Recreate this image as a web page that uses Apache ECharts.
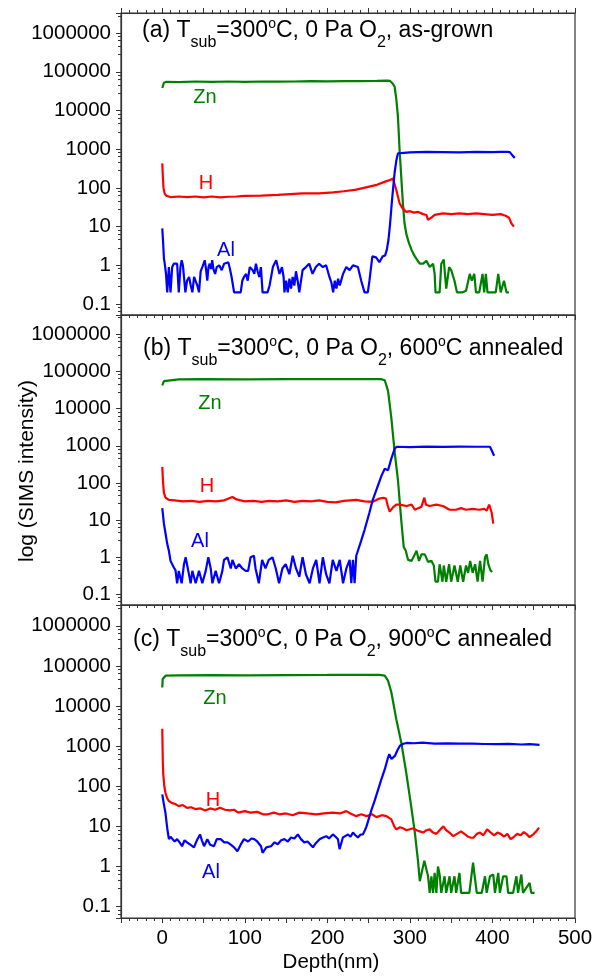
<!DOCTYPE html>
<html>
<head>
<meta charset="utf-8">
<script src="https://cdn.jsdelivr.net/npm/echarts@6/dist/echarts.min.js"></script>
<style>
html, body { margin: 0; padding: 0; background: #fff; }
#chart { width: 600px; height: 976px; }
</style>
</head>
<body>
<div id="chart"></div>
<script>
// depth (nm), SIMS counts

// (a) as-grown
const znA = [[0, 38000], [2, 52000], [5, 55000], [20, 54000], [40, 56000], [60, 55000], [80, 56000], [100, 55000], [120, 56000], [140, 55500], [160, 56000], [180, 57000], [200, 56500], [220, 57000], [240, 57500], [260, 58000], [272, 59000], [276, 58000], [279, 50000], [281.5, 41000], [283.5, 20000], [285.5, 6900], [287.5, 950], [289.5, 195], [291.5, 40], [293.5, 12], [296, 6], [299, 3.7], [302, 2.5], [306, 1.7], [309, 1.35], [312, 1.1], [316, 1.1], [320, 1.3], [324, 0.9], [328, 1.1], [330, 0.6], [331, 0.2], [336, 0.2], [338, 1.1], [341, 1.4], [344, 0.25], [347.5, 0.9], [350, 0.75], [354, 0.4], [357, 0.2], [364, 0.2], [368, 0.22], [372.5, 0.6], [375, 0.4], [378, 0.6], [380, 0.2], [384, 0.2], [388, 0.6], [390, 0.2], [392, 0.6], [394, 0.2], [398, 0.2], [404, 0.2], [407, 0.6], [410, 0.2], [414, 0.4], [417, 0.2], [420, 0.2]];
const hA = [[0, 430], [0.7, 200], [1.5, 100], [3, 70], [5, 62], [10, 58], [20, 60], [30, 58], [40, 60], [50, 57], [60, 60], [70, 57], [80, 59], [90, 60], [100, 62], [120, 63], [140, 66], [160, 70], [170, 72], [190, 72], [207, 77], [220, 82], [235, 90], [248, 105], [260, 120], [270, 145], [276, 160], [279.5, 175], [283.5, 88], [287.5, 40], [291, 30], [295.5, 24], [300, 25], [305, 23], [310, 24], [316, 21], [320, 20], [322, 15], [326, 17], [330, 20], [340, 22], [350, 21], [360, 22], [370, 21], [380, 22], [390, 21], [400, 20], [410, 21], [416, 19], [420, 17], [423, 12], [426, 10]];
const alA = [[0, 9], [1, 4], [2, 1.5], [3, 1.1], [4.5, 0.6], [6, 0.2], [8, 0.9], [10, 0.2], [12, 0.9], [14, 1.1], [16, 1.2], [18, 1.1], [20, 0.2], [22, 0.9], [23.5, 1.35], [25, 1.0], [26.5, 0.9], [28, 0.2], [30, 0.4], [32.5, 0.5], [34.5, 0.3], [36.5, 0.2], [38.5, 0.5], [40.5, 0.5], [42.5, 0.3], [44.5, 0.2], [46.5, 0.7], [48.5, 0.9], [51.5, 1.35], [53, 0.8], [54.5, 0.4], [56, 0.9], [57.5, 1.1], [59, 0.8], [60.5, 1.35], [62, 0.8], [64, 0.6], [66, 0.9], [67, 0.8], [69, 1.0], [72, 0.75], [75, 1.1], [77, 1.1], [80, 1.2], [82, 0.8], [84, 0.5], [87, 0.2], [95, 0.2], [97, 0.4], [99, 0.5], [101.5, 0.6], [103.5, 0.4], [106, 0.9], [109.5, 0.75], [111.5, 0.6], [113.5, 1.1], [115.5, 0.7], [117.5, 0.5], [119.5, 0.9], [121.5, 0.2], [127.5, 0.2], [130, 0.3], [134, 0.9], [138, 1.35], [140, 0.9], [142, 0.6], [145, 0.9], [147, 0.5], [148, 0.2], [150, 0.4], [152, 0.2], [154, 0.45], [156, 0.25], [158, 0.5], [160, 0.3], [162, 0.7], [164, 0.4], [166, 0.2], [170, 0.75], [174, 0.9], [178, 1.1], [182, 0.6], [186, 0.9], [190, 1.1], [194.5, 0.9], [198.5, 1.0], [202.5, 0.5], [205, 0.35], [207, 0.2], [209, 0.4], [211, 0.25], [213, 0.45], [215, 0.3], [219, 0.6], [223, 0.9], [227, 0.75], [231, 1.0], [237, 0.9], [241, 0.4], [245, 0.2], [249, 0.2], [251, 0.4], [254.5, 1.7], [259, 1.6], [263, 1.2], [267, 1.7], [270, 1.8], [272, 2.5], [274, 4.5], [276, 12], [278, 40], [279.5, 90], [281.5, 250], [283.5, 500], [285.5, 780], [287.5, 850], [300, 830], [320, 850], [340, 840], [360, 830], [380, 850], [400, 840], [410, 850], [418, 850], [421, 840], [424, 700], [427, 590]];

// (b) 600 C annealed
const znB = [[0, 42000], [2, 55000], [4, 60000], [20, 61000], [50, 62000], [100, 61500], [150, 62000], [200, 62000], [240, 62500], [265, 62000], [269.5, 58000], [273.5, 30000], [277.5, 5600], [281.5, 680], [285.5, 120], [289.5, 10], [292.5, 1.9], [295, 1.5], [297.8, 0.85], [302, 0.8], [306, 1.2], [308, 1.5], [311, 0.8], [314, 1.2], [318, 1.2], [322, 0.75], [326, 0.8], [329, 0.6], [331, 0.22], [334, 0.22], [336, 0.65], [339.5, 0.22], [341, 0.6], [344, 0.22], [347.5, 0.65], [350, 0.22], [354, 0.6], [358, 0.22], [361, 0.6], [364.5, 0.22], [368, 0.6], [370.5, 0.38], [373, 0.8], [376, 0.38], [379, 0.65], [382, 0.22], [385, 0.8], [388, 0.22], [391, 1.0], [393, 1.2], [395, 0.65], [397.5, 0.45], [399.5, 0.4]];
const hB = [[0, 270], [1, 100], [2, 54], [4, 40], [8, 35], [15, 34], [25, 32], [35, 33], [45, 31], [55, 33], [65, 32], [75, 34], [85, 42], [90, 36], [100, 32], [110, 33], [120, 31], [130, 33], [140, 32], [150, 34], [160, 31], [170, 33], [180, 32], [190, 34], [200, 31], [210, 30], [220, 33], [235, 35], [245, 32], [255, 31], [263, 38], [268, 40], [271, 38], [273, 25], [275.5, 17], [279.5, 22], [283.5, 26], [288, 26], [292, 25], [296, 24], [302, 26], [306, 19], [310, 21], [314, 23], [316, 32], [317.5, 40], [319.5, 26], [324, 24], [332, 26], [340, 24], [348, 19], [356, 19], [362, 21], [368, 19], [376, 20], [384, 19], [390, 20], [393, 18], [396, 26], [399, 16], [401, 8]];
const alB = [[0, 21], [2, 8], [4, 4.3], [6, 2.3], [8, 1.5], [10, 0.8], [12, 0.9], [14, 0.53], [16, 0.45], [18, 0.2], [20, 0.43], [23.5, 0.2], [26.3, 0.65], [28.3, 1.0], [31.5, 0.43], [34.4, 0.2], [36.4, 0.43], [40.5, 0.2], [44.5, 0.43], [48.5, 0.2], [52.6, 0.43], [55.8, 1.0], [58.7, 0.5], [60.7, 0.2], [64.7, 0.43], [68.8, 0.2], [72.8, 0.43], [74.8, 0.85], [78.9, 1.0], [83, 0.5], [85, 0.85], [89, 0.5], [93, 0.65], [97, 0.5], [101, 0.43], [104, 0.43], [107, 1.0], [111, 1.1], [113, 0.5], [117, 0.2], [121, 0.85], [125, 0.5], [129, 0.85], [133.5, 1.0], [137.5, 0.5], [141.5, 0.2], [145.5, 0.5], [149.5, 0.65], [154, 0.35], [158, 1.1], [162, 0.5], [166, 0.3], [170, 1.0], [174, 0.35], [178.5, 0.2], [182.5, 0.5], [186.5, 0.85], [190.5, 0.2], [194.5, 1.0], [198.5, 0.35], [202.5, 0.2], [206.5, 0.85], [211, 0.43], [215, 0.85], [219, 0.2], [223, 0.5], [227, 0.85], [229, 0.2], [231, 0.85], [233, 0.2], [235, 1.1], [237, 1.5], [241, 2.8], [245, 5.4], [251, 16], [255, 35], [259.5, 66], [265.5, 155], [269.5, 240], [273.5, 220], [277.5, 450], [281.5, 830], [284, 940], [300, 920], [320, 950], [340, 930], [360, 950], [380, 940], [397, 940], [400, 680], [402, 540]];

// (c) 900 C annealed
const znC = [[0, 29000], [0.5, 47000], [4, 57000], [20, 58000], [60, 59000], [100, 58000], [150, 59000], [200, 59500], [240, 60000], [263, 60000], [269.5, 57000], [273.5, 43000], [277.5, 22000], [283.5, 4700], [289.5, 1240], [295.5, 220], [301.5, 32], [306, 7], [310, 1.24], [312, 0.43], [314, 0.43], [317.5, 1.4], [320, 0.84], [322, 0.57], [324, 0.22], [326, 0.57], [328, 0.22], [330, 0.69], [332, 0.22], [334, 1.0], [336, 0.63], [338, 0.22], [342, 0.57], [344, 0.22], [348, 0.57], [350, 0.22], [354, 0.57], [356, 0.22], [360, 0.69], [362, 0.22], [372, 0.22], [376.5, 1.24], [378.5, 0.57], [381, 0.22], [387, 0.22], [391, 0.57], [393, 0.22], [397, 0.57], [401, 0.63], [403, 0.22], [407, 0.69], [409, 0.22], [413, 0.57], [417, 0.57], [419, 0.22], [425, 0.22], [429, 0.57], [431, 0.22], [435, 0.63], [437, 0.22], [445, 0.39], [447, 0.22], [451, 0.22]];
const hC = [[0, 2700], [0.3, 1200], [0.6, 450], [1.2, 200], [2.5, 100], [3.8, 69], [6, 50], [8, 43], [12, 38], [16, 36], [20, 32], [25, 34], [30, 29], [35, 30], [40, 27], [46.5, 28], [52, 25], [58, 28], [64, 26], [70, 29], [76, 26], [82, 25], [87, 26], [92, 22], [100, 24], [107, 22], [115, 23], [122, 20], [128, 20], [135, 22], [142, 20], [150, 21], [158, 19], [166, 22], [176, 21], [186.5, 20], [196, 21], [206.5, 22], [215, 21], [223, 24], [228, 21], [235, 18], [241, 20], [247.5, 18], [254, 20], [259.5, 17], [266, 19], [271.5, 18], [277.5, 15], [281, 10], [283.5, 8.4], [288, 9.5], [291.5, 9], [296, 8], [300, 8.5], [304, 9], [308, 8], [312, 7.5], [316, 7], [320, 8], [324, 8.4], [328, 7], [332, 6.5], [336, 8], [340.5, 10], [344, 8], [348, 7], [352.5, 5.7], [357, 6.5], [362, 7.5], [366, 6.5], [370, 5.6], [374, 5.2], [377, 5.2], [381, 6.5], [385, 7], [389, 6], [393.5, 8.4], [398, 7], [402, 6], [406, 7], [410, 6.5], [414, 5.5], [418, 6.5], [422, 4.8], [426, 5.5], [430, 6.5], [434, 6], [438, 7.2], [441, 6.5], [445, 5.4], [449, 6.2], [453, 7.5], [456.5, 9.3]];
const alC = [[0, 63], [2, 35], [3.8, 22], [6, 9], [8, 4.8], [10, 5.5], [12, 5.3], [15, 4.2], [18, 4.8], [21, 4], [24, 3.2], [27, 4.5], [30, 4], [34, 3.5], [38.4, 3], [42, 4.5], [45.7, 6.3], [48, 4.5], [50.6, 3.2], [54.6, 4.8], [58, 3.5], [62.7, 3.2], [66, 4.8], [70.8, 4.8], [75, 4], [79, 4], [83, 3.5], [87, 3], [91, 2.4], [95, 3.5], [99, 4.8], [104, 4.2], [108, 5], [111.4, 4.8], [115, 4.2], [119.6, 3.2], [121.5, 2.2], [123.6, 2.0], [126, 3], [131.8, 3.2], [136, 4], [139.9, 3.6], [144, 4.5], [148, 4.8], [152, 4.2], [156, 5.3], [160, 5], [164.2, 6.3], [168, 4.8], [172, 4], [176, 4.2], [182.5, 3], [186, 3.8], [190.6, 4.8], [194, 5.2], [198.7, 5.7], [202, 5], [206.7, 6.3], [210, 5.5], [212.8, 4.8], [214.8, 2.7], [218.8, 5.3], [222, 5.8], [225, 6.3], [228, 5.5], [231, 7], [234, 6], [237, 5.3], [240, 6.2], [243, 6.3], [245.5, 8], [247.4, 10], [250, 15], [253.5, 26], [257, 42], [261.6, 84], [265, 140], [269.7, 270], [273, 480], [275, 630], [277.7, 480], [281.8, 570], [285, 800], [287.9, 1020], [292, 1150], [296, 1200], [305, 1180], [315, 1220], [330, 1150], [345, 1170], [360, 1150], [375, 1160], [390, 1130], [405, 1120], [420, 1140], [435, 1100], [445, 1120], [457, 1070]];

const xRange = [-50, 500];
const yRange = [0.052, 3.3e6];
const seriesNames = ['Zn', 'H', 'Al'];
const seriesColors = ['#008000', '#ff0000', '#0000ff'];
const panelTitles = [
  '(a) T{sub|sub}=300{sup|o}C, 0 Pa O{sub|2}, as-grown',
  '(b) T{sub|sub}=300{sup|o}C, 0 Pa O{sub|2}, 600{sup|o}C annealed',
  '(c) T{sub|sub}=300{sup|o}C, 0 Pa O{sub|2}, 900{sup|o}C annealed'
];

const FONT = "'Liberation Sans', Arial, sans-serif";
const AXIS = '#333';

const panels = [
  { top: 13, height: 302, data: [znA, hA, alA], titleAt: [142, 11], tags: [[205, 97], [206, 183], [226, 250]] },
  { top: 315, height: 290, data: [znB, hB, alB], titleAt: [143, 329], tags: [[210, 403], [207, 486], [200, 541]] },
  { top: 605, height: 313, data: [znC, hC, alC], titleAt: [133, 620], tags: [[215, 698], [213, 800], [211, 872]] }
];

function xAxisFor(gi, position, labels) {
  return {
    type: 'value', gridIndex: gi, position,
    min: xRange[0], max: xRange[1], interval: 50,
    axisLine: { show: true, onZero: false, lineStyle: { color: AXIS, width: 1.2 } },
    axisTick: { show: true, length: 5, lineStyle: { color: AXIS } },
    minorTick: { show: true, splitNumber: 5, length: 3, lineStyle: { color: AXIS } },
    splitLine: { show: false },
    axisLabel: {
      show: labels, margin: 10, color: '#000', fontSize: 20.5, fontFamily: FONT,
      formatter: v => (v % 100 === 0 ? String(v) : '')
    }
  };
}

const chart = echarts.init(document.getElementById('chart'));

const grids = panels.map(p => ({
  left: 121, right: 25, top: p.top, height: p.height,
  show: true, borderColor: AXIS, borderWidth: 1.2, backgroundColor: 'transparent'
}));

const xAxes = panels.map((p, i) => xAxisFor(i, 'bottom', i === 2));
xAxes.push(xAxisFor(0, 'top', false));

const yAxes = panels.map((p, i) => ({
  type: 'log', gridIndex: i, logBase: 10, position: 'left',
  min: yRange[0], max: yRange[1], splitNumber: 8,
  axisLine: { show: true, onZero: false, lineStyle: { color: AXIS, width: 1.2 } },
  axisTick: { show: true, length: 5, lineStyle: { color: AXIS } },
  minorTick: { show: true, splitNumber: 5, length: 3, lineStyle: { color: AXIS } },
  splitLine: { show: false },
  axisLabel: {
    margin: 10, color: '#000', fontSize: 20.5, fontFamily: FONT,
    showMinLabel: false, showMaxLabel: false,
    formatter: v => (v < 1 ? String(Number(v.toPrecision(1))) : String(Math.round(v)))
  }
}));

const series = [];
panels.forEach((p, i) => {
  p.data.forEach((d, k) => {
    series.push({
      type: 'line', name: seriesNames[k], xAxisIndex: i, yAxisIndex: i,
      data: d, showSymbol: false, symbol: 'none', clip: true,
      lineStyle: { color: seriesColors[k], width: 2.2 },
      itemStyle: { color: seriesColors[k] }
    });
  });
});

const graphic = [
  {
    type: 'text', x: 27, y: 471, rotation: Math.PI / 2,
    style: { text: 'log (SIMS intensity)', font: '21px ' + FONT, fill: '#000', align: 'center', verticalAlign: 'middle' }
  },
  {
    type: 'text', x: 331, y: 962,
    style: { text: 'Depth(nm)', font: '20.5px ' + FONT, fill: '#000', align: 'center', verticalAlign: 'middle' }
  }
];
panels.forEach((p, i) => {
  graphic.push({
    type: 'text', x: p.titleAt[0], y: p.titleAt[1],
    style: {
      text: panelTitles[i], fontSize: 23, fontFamily: FONT, fill: '#000', lineHeight: 40,
      rich: {
        sub: { fontSize: 16, fontFamily: FONT, verticalAlign: 'bottom', lineHeight: 40 },
        sup: { fontSize: 14, fontFamily: FONT, verticalAlign: 'top', padding: [6, 0, 0, 0] }
      }
    }
  });
  p.tags.forEach((t, k) => {
    graphic.push({
      type: 'text', x: t[0], y: t[1],
      style: { text: seriesNames[k], font: '20px ' + FONT, fill: seriesColors[k], align: 'center', verticalAlign: 'middle' }
    });
  });
});

chart.setOption({
  animation: false,
  backgroundColor: '#fff',
  grid: grids,
  xAxis: xAxes,
  yAxis: yAxes,
  series,
  graphic
});
</script>
</body>
</html>
